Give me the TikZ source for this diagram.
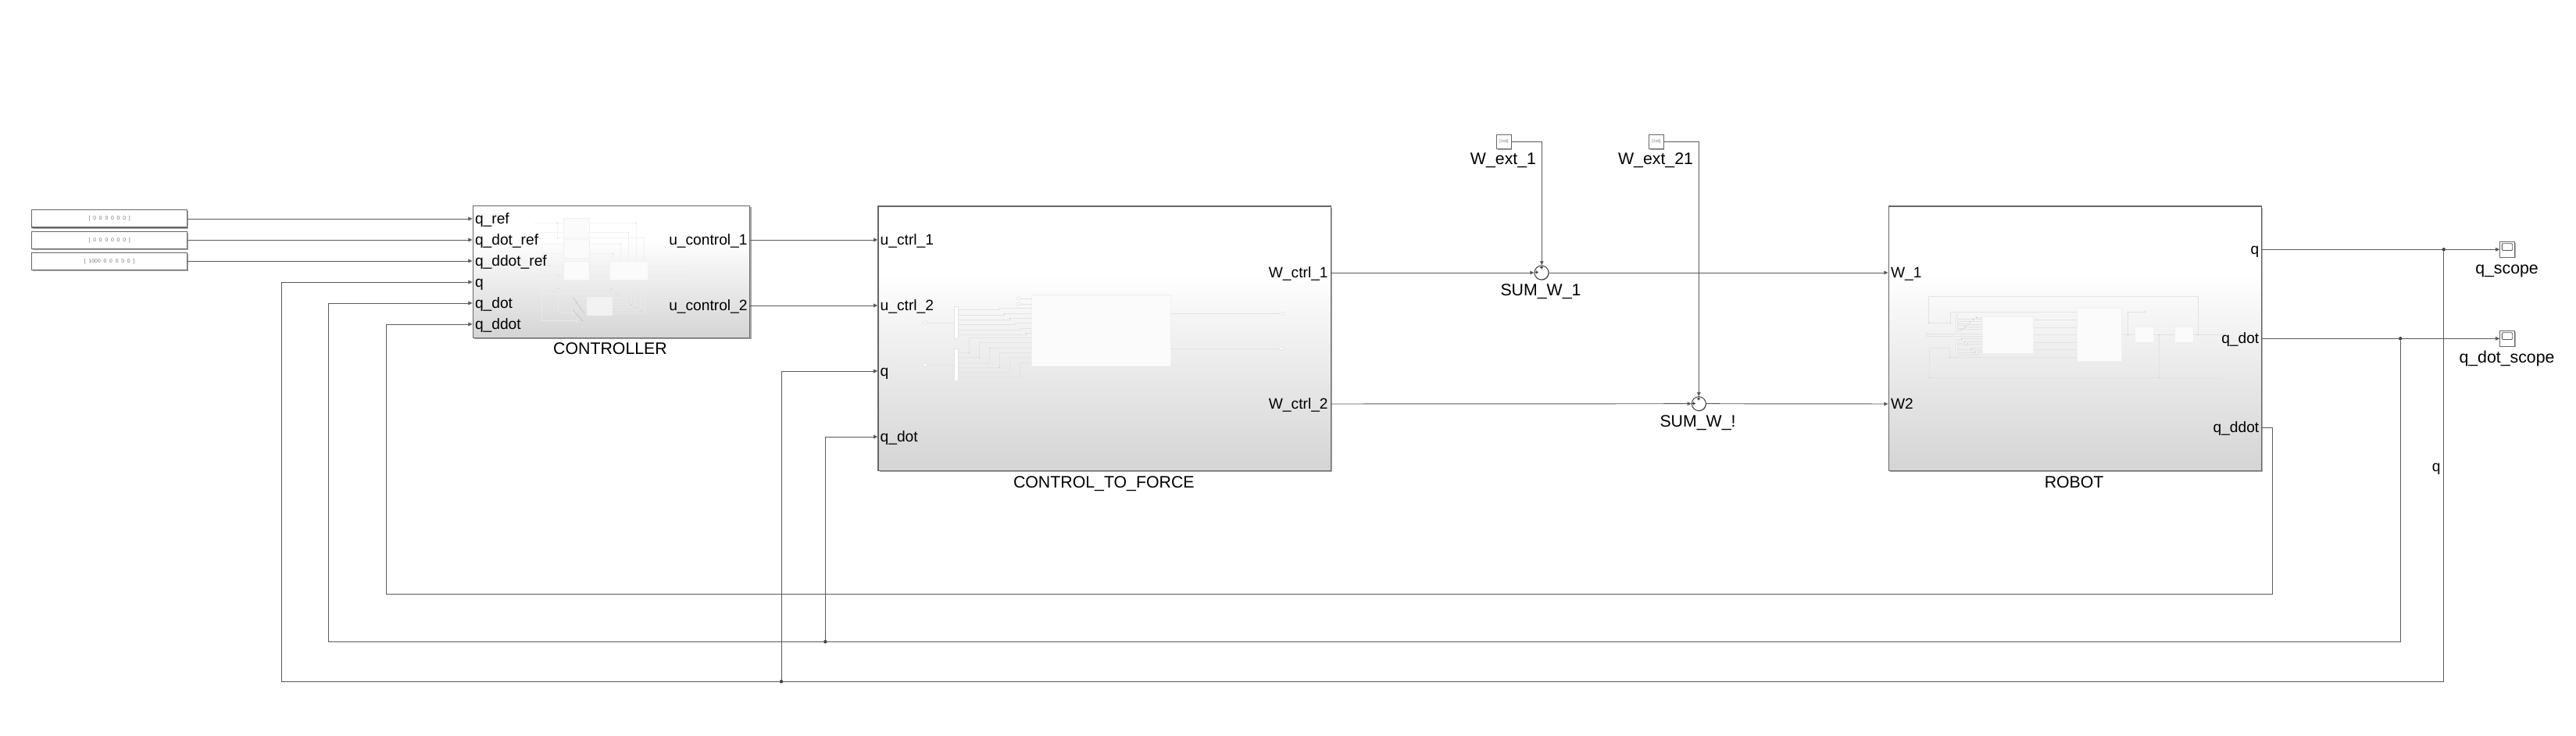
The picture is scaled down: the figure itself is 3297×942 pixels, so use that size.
\documentclass[tikz,border=0pt]{standalone}
\usepackage{fontspec}
\setmainfont{Liberation Sans}
\usetikzlibrary{arrows.meta,calc,shapes.geometric,shadows}
\definecolor{shadeA}{HTML}{D4D4D4}
\definecolor{shadeB}{HTML}{E0E0E0}
\definecolor{shadeC}{HTML}{EBEBEB}
\definecolor{shadeD}{HTML}{F6F6F6}
\pgfdeclareverticalshading{simblock}{100bp}{color(0bp)=(shadeA);color(25bp)=(shadeA);color(35bp)=(shadeB);color(45bp)=(shadeC);color(55bp)=(shadeD);color(62bp)=(white);color(100bp)=(white)}
\definecolor{wirecol}{HTML}{5A5A5A}
\definecolor{edgecol}{HTML}{666666}
\definecolor{shadowcol}{HTML}{A8A8A8}
\definecolor{innercol}{HTML}{E3E3E3}
\definecolor{innerbox}{HTML}{FBFBFB}
\tikzset{
  wire/.style={draw=wirecol,line width=.48pt},
  tipped/.style={wire,-{Triangle[length=2.6pt,width=2.3pt]}},
  block/.style={draw=edgecol,line width=.7pt,shading=simblock,inner sep=0pt,anchor=north west,
    drop shadow={shadow xshift=.9pt,shadow yshift=-.9pt,fill=shadowcol,opacity=1}},
  constblock/.style={draw=edgecol,line width=.7pt,fill=white,inner sep=0pt,anchor=north west,
    minimum width=99.5pt,minimum height=11.2pt,
    drop shadow={shadow xshift=.6pt,shadow yshift=-.7pt,fill=shadowcol,opacity=1}},
  smallblock/.style={draw=edgecol,line width=.5pt,fill=white,inner sep=0pt,anchor=north west,
    drop shadow={shadow xshift=.6pt,shadow yshift=-.6pt,fill=shadowcol,opacity=1}},
  sumblock/.style={circle,draw=black!75,line width=.5pt,fill=white,inner sep=0pt,minimum size=9pt,
    drop shadow={shadow xshift=.4pt,shadow yshift=-.4pt,fill=shadowcol,opacity=1}},
  portlabel/.style={inner sep=0pt,font=\fontsize{9.6pt}{10pt}\selectfont,text height=6.6pt,text depth=0pt},
  inlabel/.style={portlabel,anchor=west},
  outlabel/.style={portlabel,anchor=east},
  namelabel/.style={inner sep=0pt,font=\fontsize{10.65pt}{11pt}\selectfont,text height=7.6pt,text depth=0pt,anchor=center},
  dotjoin/.style={circle,fill=black!80,inner sep=0pt,minimum size=2.2pt},
  tinytext/.style={inner sep=0pt,text=black!55,font=\fontsize{3.4pt}{3.6pt}\selectfont},
  innerw/.style={draw=innercol,line width=.35pt},
  faint/.style={draw=black!7,line width=.28pt},
  innerb/.style={draw=black!6,line width=.35pt,fill=innerbox},
  pindot/.style={fill=black!45,draw=none},
}
\newcommand{\zgap}{\hspace{1.9pt}}
\begin{document}
\begin{tikzpicture}[x=.5pt,y=-.5pt]
\useasboundingbox[fill=white] (0,0) rectangle (3297,942);

% --- constants
\node[constblock] (c1) at (40,268) {};
\node[constblock] (c2) at (40,295.5) {};
\node[constblock] (c3) at (40,322.5) {};
\node[tinytext] (c1t) at (c1.center) {[\zgap0\zgap0\zgap0\zgap0\zgap0\zgap0\zgap]};
\node[tinytext] (c2t) at (c2.center) {[\zgap0\zgap0\zgap0\zgap0\zgap0\zgap0\zgap]};
\node[tinytext] (c3t) at (c3.center) {[\zgap1000\zgap0\zgap0\zgap0\zgap0\zgap0\zgap]};

% --- main blocks
\node[block,minimum width=177.2pt,minimum height=84.5pt] (ctrl) at (604.6,262.8) {};
\node[block,minimum width=289.8pt,minimum height=169.2pt] (ctf) at (1123.3,263.3) {};
\node[block,minimum width=238.5pt,minimum height=169.2pt] (robot) at (2416.6,263.3) {};

% --- controller interior
\begin{scope}[shift={(670,265)},scale=1/3]
\draw[faint] (42,61)--(155,61) (130,61)--(130,118) (42,97)--(155,97) (130,118)--(155,118)
 (254,61)--(433,61)--(433,208) (254,97)--(403,97)--(403,208) (130,118)--(463,118)--(463,208)
 (254,142)--(373,142)--(373,208) (254,178)--(343,178)--(343,208) (70,142)--(155,142) (70,178)--(155,178)
 (38,226)--(155,226) (38,262)--(155,262) (253,226)--(330,226) (253,262)--(330,262) (478,226)--(630,226)
 (478,262)--(630,262) (133,262)--(133,406)--(190,406) (133,314)--(337,314)--(337,279) (70,334)--(355,334)--(355,279)
 (70,142)--(70,437)--(205,437) (339,352)--(376,352)--(376,279) (339,363)--(394,363)--(394,279)
 (339,374)--(412,374)--(412,279) (339,385)--(430,385)--(430,279) (339,397)--(448,397)--(448,279)
 (339,408)--(466,408)--(466,279) (193,350)--(243,352) (203,368)--(243,374) (217,395)--(243,397) (187,398)--(187,420) (205,425)--(205,445);
\draw[draw=black!22,line width=.3pt] (193,350)--(232,405) (193,398)--(226,436);
\foreach \x/\y in {130/61,130/118,403/97,433/61,373/142,343/178,133/262,133/314,133/406,337/314,355/334,412/374,430/385,448/397,193/350,203/368,217/392,232/405,193/398,208/415,226/436}
  \fill[pindot] (\x,\y) circle (1.1);
\draw[innerb] (155,44) rectangle (254,118);
\draw[innerb] (155,124) rectangle (254,196);
\draw[innerb] (155,208) rectangle (253,279);
\draw[innerb] (330,208) rectangle (478,279);
\draw[innerb,fill=black!5] (243,347) rectangle (339,414);
\end{scope}

% --- control_to_force interior
\begin{scope}[shift={(1215,370)},scale=1/3]
\draw[innerw] (-93,129)--(19,129) (-93,291)--(19,291);
\draw[innerw] (267,36)--(317,36) (267,57)--(317,57);
\foreach \a/\j/\b in {80/193/73,100/211/94,118/232/112,136/253/130,157/274/151,176/295/170}
  \draw[innerw] (34,\a)--(\j,\a)--(\j,\b)--(317,\b);
\foreach \a/\j/\b in {244/76/187,263/115/206,282/154/226,301/193/244,320/232/263,338/271/282}
  \draw[innerw] (34,\a)--(\j,\a)--(\j,\b)--(317,\b);
\foreach \x/\y in {211/94,232/112,295/170,76/244,115/263,154/226,193/301}
  \fill[pindot] (\x,\y) circle (1.2);
\draw[innerw,fill=white] (19,67) rectangle (34,190);
\draw[innerw,fill=white] (19,229) rectangle (34,352);
\draw[innerb] (317,22) rectangle (849,295);
\draw[innerw] (849,93)--(1276,93) (849,228)--(1276,228);
\foreach \x/\y in {-93/129,-93/291,267/36,267/57,1276/93,1276/228}
  \draw[innerw,fill=white] (\x,\y) ellipse (9 and 5);
\end{scope}

% --- robot interior
\begin{scope}[shift={(2450,370)},scale=1/3]
\draw[innerw] (55,130)--(55,28)--(1090,28)--(1090,175);
\draw[innerw] (55,130)--(139,130)--(139,88)--(625,88);
\draw[innerw] (797,175)--(848,175) (820,175)--(820,88)--(885,88);
\draw[innerw] (919,175)--(1001,175) (940,175)--(940,340);
\draw[innerw] (58,340)--(1180,340) (58,340)--(58,226)--(136,226)--(136,262)--(625,262);
\draw[innerw] (1072,175)--(1180,175);
\foreach \y in {118,148,175,205,233} \draw[innerw] (457,\y)--(625,\y);
\draw[innerw] (48,171)--(262,171) (48,181)--(262,181);
\foreach \a/\j/\b in {116/238/108,124/226/116,132/214/124,140/205/137,150/193/146,160/181/155,
  197/181/190,207/193/202,215/205/210,233/220/226,243/232/234,254/244/241}
  \draw[innerw] (167,\a)--(\j,\a)--(\j,\b)--(262,\b);
\foreach \x/\y in {238/108,226/116,214/124,193/146,181/155,181/190,193/202,205/210,220/233,232/243,55/130,139/130,136/262,58/340,820/175,820/88,940/175,940/340,1090/175}
  \fill[pindot] (\x,\y) circle (1.2);
\draw[innerw,fill=white] (160,97) rectangle (167,163);
\draw[innerw,fill=white] (160,193) rectangle (167,260);
\draw[innerb] (262,105) rectangle (457,247);
\draw[innerb] (625,73) rectangle (797,277);
\draw[innerb] (848,146) rectangle (919,205);
\draw[innerb] (1001,146) rectangle (1072,205);
\foreach \x/\y in {48/171,48/181,885/88,1183/175,1183/340}
  \draw[innerw,fill=white] (\x,\y) ellipse (5 and 3);
\end{scope}

% --- port coordinates
\coordinate (ci1) at (604.6,280);
\coordinate (ci2) at (604.6,307);
\coordinate (ci3) at (604.6,334);
\coordinate (ci4) at (604.6,361);
\coordinate (ci5) at (604.6,388);
\coordinate (ci6) at (604.6,415);
\coordinate (co1) at (959,307);
\coordinate (co2) at (959,391);
\coordinate (fi1) at (1123.3,307);
\coordinate (fi2) at (1123.3,391);
\coordinate (fi3) at (1123.3,475);
\coordinate (fi4) at (1123.3,559);
\coordinate (fo1) at (1703,349);
\coordinate (fo2) at (1703,517);
\coordinate (ri1) at (2416.6,349);
\coordinate (ri2) at (2416.6,517);
\coordinate (ro1) at (2893.7,319.3);
\coordinate (ro2) at (2893.7,433.3);
\coordinate (ro3) at (2893.7,547);

% --- port labels
\node[inlabel] (lci1) at ($(ci1)+(3,0)$) {q\_ref};
\node[inlabel] (lci2) at ($(ci2)+(3,0)$) {q\_dot\_ref};
\node[inlabel] (lci3) at ($(ci3)+(3,0)$) {q\_ddot\_ref};
\node[inlabel] (lci4) at ($(ci4)+(3,0)$) {q};
\node[inlabel] (lci5) at ($(ci5)+(3,0)$) {q\_dot};
\node[inlabel] (lci6) at ($(ci6)+(3,0)$) {q\_ddot};
\node[outlabel] (lco1) at ($(co1)+(-2,0)$) {u\_control\_1};
\node[outlabel] (lco2) at ($(co2)+(-2,0)$) {u\_control\_2};
\node[inlabel] (lfi1) at ($(fi1)+(3,0)$) {u\_ctrl\_1};
\node[inlabel] (lfi2) at ($(fi2)+(3,0)$) {u\_ctrl\_2};
\node[inlabel] (lfi3) at ($(fi3)+(3,0)$) {q};
\node[inlabel] (lfi4) at ($(fi4)+(3,0)$) {q\_dot};
\node[outlabel] (lfo1) at ($(fo1)+(-3,0)$) {W\_ctrl\_1};
\node[outlabel] (lfo2) at ($(fo2)+(-3,0)$) {W\_ctrl\_2};
\node[inlabel] (lri1) at ($(ri1)+(3,0)$) {W\_1};
\node[inlabel] (lri2) at ($(ri2)+(3,0)$) {W2};
\node[outlabel] (lro1) at ($(ro1)+(-2,0)$) {q};
\node[outlabel] (lro2) at ($(ro2)+(-2,0)$) {q\_dot};
\node[outlabel] (lro3) at ($(ro3)+(-2,0)$) {q\_ddot};

% --- block names
\node[namelabel] (nctrl) at (781,446) {CONTROLLER};
\node[namelabel] (nctf) at (1412.8,616.7) {CONTROL\_TO\_FORCE};
\node[namelabel] (nrobot) at (2654.6,616.7) {ROBOT};

% --- external wrench sources
\node[smallblock,minimum width=9.2pt,minimum height=9.2pt] (w1) at (1915.3,171.7) {};
\node[smallblock,minimum width=9.2pt,minimum height=9.2pt] (w2) at (2110.3,171.7) {};
\node[tinytext,font=\fontsize{2.6pt}{3pt}\selectfont] (w1t) at (w1.center) {[1x6]};
\node[tinytext,font=\fontsize{2.6pt}{3pt}\selectfont] (w2t) at (w2.center) {[1x6]};
\node[namelabel] (nw1) at (1924,203) {W\_ext\_1};
\node[namelabel] (nw2) at (2119,203) {W\_ext\_21};

% --- sums
\node[sumblock] (s1) at (1973,349) {};
\node[sumblock] (s2) at (2174.3,516.7) {};
\node[inner sep=0pt,font=\fontsize{4pt}{4pt}\selectfont\bfseries] (s1a) at (1967,349) {+};
\node[inner sep=0pt,font=\fontsize{4pt}{4pt}\selectfont\bfseries] (s1b) at (1973.3,343.3) {+};
\node[inner sep=0pt,font=\fontsize{4pt}{4pt}\selectfont\bfseries] (s2a) at (2168,516.7) {+};
\node[inner sep=0pt,font=\fontsize{4pt}{4pt}\selectfont\bfseries] (s2b) at (2174.3,511) {+};
\node[namelabel] (ns1) at (1972,371) {SUM\_W\_1};
\node[namelabel] (ns2) at (2173,539) {SUM\_W\_!};

% --- scopes
\node[smallblock,minimum width=9.4pt,minimum height=9.6pt] (sc1) at (3199.3,309.3) {};
\node[smallblock,minimum width=9.4pt,minimum height=9.6pt] (sc2) at (3199.3,423.3) {};
\draw[wirecol,line width=.45pt,rounded corners=.6pt] (3202.3,311.7) rectangle (3215.7,320.5);
\draw[wirecol,line width=.45pt,rounded corners=.6pt] (3202.3,425.7) rectangle (3215.7,434.5);
\node[namelabel] (nsc1) at (3208.5,342.5) {q\_scope};
\node[namelabel] (nsc2) at (3208.5,456.5) {q\_dot\_scope};
\node[portlabel,anchor=east] (lq) at (3124,597) {q};

% --- junctions
\node[dotjoin] (jq) at (3127.7,319.3) {};
\node[dotjoin] (jd) at (3072.2,433.3) {};
\node[dotjoin] (jq2) at (1000,872.3) {};
\node[dotjoin] (jd2) at (1056.3,821.3) {};
\coordinate (bq1) at (3127.7,872.3);
\coordinate (bq2) at (360.4,872.3);
\coordinate (bq3) at (360.4,361);
\coordinate (bd1) at (3072.2,821.3);
\coordinate (bd2) at (420.6,821.3);
\coordinate (bd3) at (420.6,388);
\coordinate (bdd1) at (2908.6,547);
\coordinate (bdd2) at (2908.6,760.3);
\coordinate (bdd3) at (494.6,760.3);
\coordinate (bdd4) at (494.6,415);
\coordinate (fq) at (1000,475);
\coordinate (fd) at (1056.3,559);
\coordinate (tw1) at (1973.3,181.3);
\coordinate (tw2) at (2174.3,181.3);

% --- connectors
\draw[tipped] (c1.east |- ci1) -- (ci1);
\draw[tipped] (c2.east |- ci2) -- (ci2);
\draw[tipped] (c3.east |- ci3) -- (ci3);
\draw[tipped] (co1) -- (fi1);
\draw[tipped] (co2) -- (fi2);
\draw[tipped] (fo1) -- (s1.west);
\draw[tipped] (fo2) -- (s2.west);
\draw[tipped] (s1.east) -- (ri1);
\draw[tipped] (s2.east) -- (ri2);
\draw[tipped] (w1.east |- tw1) -- (tw1) -- (s1.north -| tw1);
\draw[tipped] (w2.east |- tw2) -- (tw2) -- (s2.north);
\draw[tipped] (ro1) -- (sc1.west |- ro1);
\draw[tipped] (ro2) -- (sc2.west |- ro2);
\draw[tipped] (jq) -- (bq1) -- (bq2) -- (bq3) -- (ci4);
\draw[tipped] (jd) -- (bd1) -- (bd2) -- (bd3) -- (ci5);
\draw[tipped] (ro3) -- (bdd1) -- (bdd2) -- (bdd3) -- (bdd4) -- (ci6);
\draw[tipped] (jq2) -- (fq) -- (fi3);
\draw[tipped] (jd2) -- (fd) -- (fi4);
\end{tikzpicture}
\end{document}
